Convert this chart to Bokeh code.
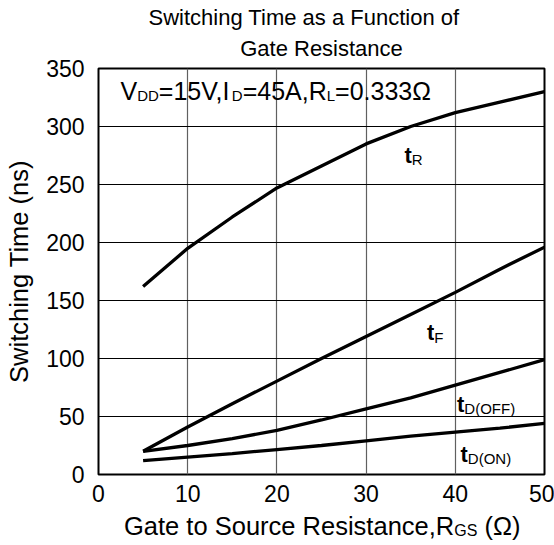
import math
from bokeh.plotting import figure
from bokeh.layouts import column
from bokeh.models import Range1d, FixedTicker, Label, Title
from bokeh.embed import file_html
from bokeh.resources import INLINE

# ---------------- data ----------------
rgs = [5, 10, 15, 20, 25, 30, 35, 40, 45, 50]
t_r = [162, 195, 222, 247, 266, 285, 300, 312, 321, 330]
t_f = [20, 41, 61, 80.5, 100, 119, 138, 157, 177, 196]
t_doff = [20, 25, 31, 38, 47, 56.5, 66, 77, 88, 99]
t_don = [12, 15, 18, 21.5, 25, 29, 33, 36.5, 40, 44]
x_ticks = [0, 10, 20, 30, 40, 50]
y_ticks = [0, 50, 100, 150, 200, 250, 300, 350]
title_lines = ["Switching Time as a Function of", "Gate Resistance"]
y_label = "Switching Time (ns)"
x_label = [("Gate to Source Resistance,R", False), ("GS", True), (" (\u03a9)", False)]
conditions = [("V", False), ("DD", True), ("=15V,I", False), ("D", True),
              ("=45A,R", False), ("L", True), ("=0.333\u03a9", False)]
curve_subs = ["R", "F", "D(OFF)", "D(ON)"]

FONT = "Liberation Sans"
W_TOTAL, H_TOTAL = 554, 545
FRAME_TOP, FRAME_BOTTOM = 68, 474
MAIN_BOTTOM_BORDER = 38
MAIN_H = FRAME_BOTTOM + MAIN_BOTTOM_BORDER
BOT_H = H_TOTAL - MAIN_H
BL, BR = 98, 10
X_PER, Y_PER = (544 - BL) / 50.0, (FRAME_BOTTOM - FRAME_TOP) / 350.0
BASE_CORR = 0.36  # baseline correction (fraction of font size)

# Arial / Liberation Sans advance widths (per 1000 em)
W = {' ': 278, '(': 333, ')': 333, ',': 278, '.': 278, '=': 584,
     'A': 667, 'C': 722, 'D': 722, 'E': 667, 'F': 611, 'G': 778, 'I': 278,
     'L': 556, 'N': 722, 'O': 778, 'R': 722, 'S': 667, 'T': 611, 'V': 667,
     'a': 556, 'c': 500, 'e': 556, 'f': 278, 'g': 556, 'h': 556, 'i': 222,
     'm': 833, 'n': 556, 'o': 556, 'r': 333, 's': 500, 't': 278, 'u': 556,
     'w': 722, '\u03a9': 768}
for d in "0123456789":
    W[d] = 556


def tw(s, size):
    return sum(W.get(c, 556) for c in s) * size / 1000.0


def dx(px):
    return (px - BL) / X_PER


x_range = Range1d(0, 50)

# ---------------- main plot ----------------
p = figure(width=W_TOTAL, height=MAIN_H, output_backend="svg", toolbar_location=None,
           x_range=x_range, y_range=Range1d(0, 350), title_location=None,
           min_border_left=BL, min_border_right=BR, min_border_top=FRAME_TOP,
           min_border_bottom=MAIN_BOTTOM_BORDER)
p.background_fill_color = "white"
p.border_fill_color = "white"
p.outline_line_color = "black"
p.outline_line_width = 2

# two-line title (first added = nearest the frame)
p.add_layout(Title(text=title_lines[1], align="center", standoff=16,
                   text_font=FONT, text_font_size="22px",
                   text_font_style="normal", text_color="black"), "above")
p.add_layout(Title(text=title_lines[0], align="left", offset=148 - BL, standoff=-9,
                   text_font=FONT, text_font_size="22px",
                   text_font_style="normal", text_color="black"), "above")

for ax in (p.xaxis[0], p.yaxis[0]):
    ax.axis_line_color = None
    ax.major_tick_line_color = None
    ax.minor_tick_line_color = None
    ax.major_tick_out = 0
    ax.major_tick_in = 0
    ax.minor_tick_out = 0
    ax.minor_tick_in = 0
    ax.major_label_text_font = FONT
    ax.major_label_text_font_size = "23px"
    ax.major_label_text_color = "black"
p.xaxis.ticker = FixedTicker(ticks=x_ticks)
p.yaxis.ticker = FixedTicker(ticks=y_ticks)
p.xaxis.major_label_standoff = 10
p.yaxis.major_label_standoff = 14
p.yaxis.axis_label = y_label
p.yaxis.axis_label_text_font = FONT
p.yaxis.axis_label_text_font_size = "25.5px"
p.yaxis.axis_label_text_font_style = "normal"
p.yaxis.axis_label_text_color = "black"
p.yaxis.axis_label_standoff = 10

p.xgrid.grid_line_color = "#606060"
p.xgrid.grid_line_width = 1.2
p.ygrid.grid_line_color = "black"
p.ygrid.grid_line_width = 1

for series in (t_r, t_f, t_doff, t_don):
    p.line(rgs, series, line_color="black", line_width=3.3)


def rich(fig, x, base_py, to_data, pieces, size, sub_size, align="left",
         bold_main=False, bg=None):
    """Place text pieces (main / subscript) on one baseline given in page px."""
    total = sum(tw(t, sub_size if s else size) * (1.2 if (bold_main and not s) else 1.0)
                for t, s in pieces)
    off = -(total / 2 if align == "center" else 0)
    for text, sub in pieces:
        sz = sub_size if sub else size
        scale = 1.2 if (bold_main and not sub) else 1.0
        lead = text[:len(text) - len(text.lstrip(" "))]
        off += tw(lead, sz) * scale          # leading blanks become an offset
        body = text.lstrip(" ")
        py = base_py - BASE_CORR * size + (4.5 if sub else 0)
        lab = Label(x=x, y=to_data(py), x_offset=off,
                    text=body, text_font=FONT, text_font_size=f"{sz}px",
                    text_font_style="bold" if (bold_main and not sub) else "normal",
                    text_align="left", text_baseline="alphabetic",
                    text_color="black")
        if bg:
            lab.background_fill_color = bg
        fig.add_layout(lab)
        off += tw(body, sz) * scale


def main_dy(py):
    return (FRAME_BOTTOM - py) / Y_PER


# test conditions
rich(p, dx(120), 99.3, main_dy, conditions, 25, 15)

# curve labels (left edge px, baseline px)
label_pos = [(404, 162.7, None), (426.5, 340, "white"), (456.5, 411.7, None),
             (460, 461.7, "white")]
for sub, (lx, ly, bg) in zip(curve_subs, label_pos):
    rich(p, dx(lx), ly, main_dy, [("t", False), (sub, True)], 22, 15,
         bold_main=True, bg=bg)

# ---------------- x-axis label strip ----------------
bot = figure(width=W_TOTAL, height=BOT_H, output_backend="svg", toolbar_location=None,
             x_range=x_range, y_range=Range1d(0, BOT_H),
             x_axis_location=None, y_axis_location=None,
             min_border_left=BL, min_border_right=BR, min_border_top=0,
             min_border_bottom=0)
bot.grid.visible = False
bot.outline_line_color = None
bot.background_fill_color = "white"
bot.border_fill_color = "white"
bot_dy = lambda py: H_TOTAL - py
rich(bot, dx(322), 535, bot_dy, x_label, 25.5, 16, align="center")

layout = column(p, bot, spacing=0)
open("out.html", "w").write(file_html(layout, INLINE))
